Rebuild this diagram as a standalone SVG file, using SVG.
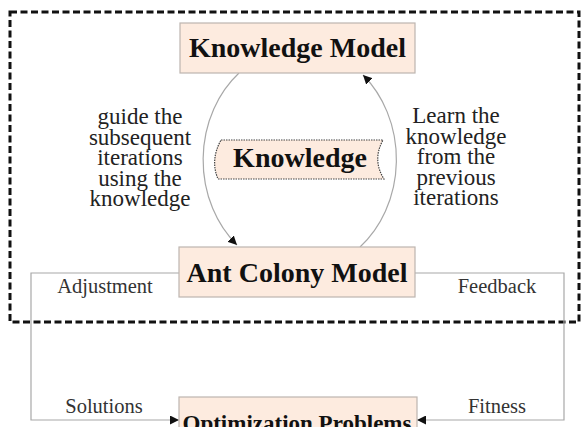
<svg xmlns="http://www.w3.org/2000/svg" width="582" height="427" viewBox="0 0 582 427">
<style>
.box{fill:#fdebdf;stroke:#bdb5b0;stroke-width:1.2}
.bt{font-family:"Liberation Serif","Times New Roman",serif;font-weight:bold;font-size:28px;fill:#111;text-anchor:middle}
.lt{font-family:"Liberation Serif","Times New Roman",serif;font-size:23px;fill:#222;text-anchor:middle}
.st{font-family:"Liberation Serif","Times New Roman",serif;font-size:20.5px;fill:#333;text-anchor:middle}
.con{fill:none;stroke:#a8a8a8;stroke-width:1.2}
</style>
<defs>
<marker id="ah" viewBox="0 0 10 10" refX="10" refY="5" markerWidth="9" markerHeight="9" markerUnits="userSpaceOnUse" orient="auto">
<path d="M0,0 L10,5 L0,10 Z" fill="#111"/>
</marker>
</defs>
<rect x="10" y="12" width="569" height="310" fill="none" stroke="#111" stroke-width="3" stroke-dasharray="7,3.5"/>
<g id="connectors">
<path class="con" d="M239,73 A97,112 0 0 0 237,245" marker-end="url(#ah)"/>
<path class="con" d="M360,247 A97,112 0 0 0 363,75" marker-end="url(#ah)"/>
<path class="con" d="M179,273 H31 V420 H179" marker-end="url(#ah)"/>
<path class="con" d="M415,273 H564 V420 H417" marker-end="url(#ah)"/>
</g>
<g id="knowledge-model">
<rect class="box" x="180" y="23" width="235" height="50"/>
<text class="bt" x="297.5" y="57">Knowledge Model</text>
</g>
<g id="knowledge">
<path d="M221,140 H383 Q372,160 384,179 H218 Q210,160 221,140 Z" fill="#fdebdf" stroke="#444" stroke-width="1.2" stroke-dasharray="1.5,1"/>
<text class="bt" x="300" y="167">Knowledge</text>
</g>
<g id="ant-colony-model">
<rect class="box" x="179" y="247" width="236" height="50"/>
<text class="bt" x="297" y="282">Ant Colony Model</text>
</g>
<g id="optimization-problems">
<rect class="box" x="179" y="397" width="238" height="50"/>
<text class="bt" x="297" y="431" style="font-size:23px">Optimization Problems</text>
</g>
<g id="labels">
<text class="lt" x="140"><tspan x="140" y="124">guide the</tspan><tspan x="140" y="144.5">subsequent</tspan><tspan x="140" y="165">iterations</tspan><tspan x="140" y="185.5">using the</tspan><tspan x="140" y="206">knowledge</tspan></text>
<text class="lt" x="456"><tspan x="456" y="123">Learn the</tspan><tspan x="456" y="143.5">knowledge</tspan><tspan x="456" y="164">from the</tspan><tspan x="456" y="184.5">previous</tspan><tspan x="456" y="205">iterations</tspan></text>
<text class="st" x="105" y="293">Adjustment</text>
<text class="st" x="497" y="293">Feedback</text>
<text class="st" x="104" y="413">Solutions</text>
<text class="st" x="497" y="413">Fitness</text>
</g>
</svg>
